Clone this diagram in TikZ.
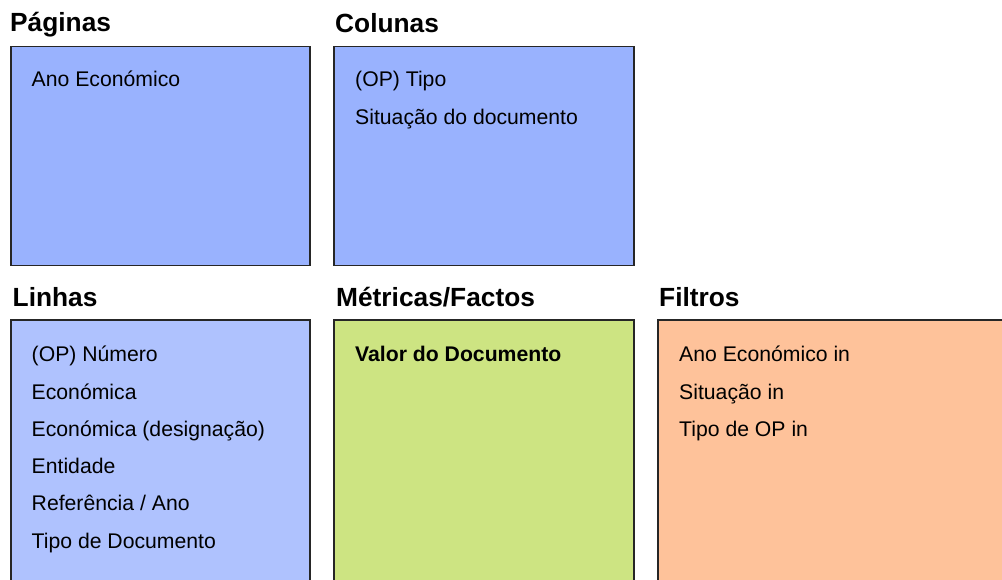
\documentclass[tikz,border=0pt]{standalone}
\usepackage{fontspec}
\setmainfont{Liberation Sans}
\definecolor{pagfill}{HTML}{99B2FE}
\definecolor{linfill}{HTML}{AFC2FE}
\definecolor{metfill}{HTML}{CDE482}
\definecolor{filfill}{HTML}{FEC29A}
\begin{document}
\begin{tikzpicture}[x=1pt,y=-1pt,
  box/.style={draw=black!85, line width=1.3pt, anchor=north west, inner sep=0pt, outer sep=0pt},
  title/.style={anchor=base west, inner sep=0pt, font=\fontsize{26.3}{31}\selectfont\bfseries},
  item/.style={anchor=base west, inner sep=0pt, font=\fontsize{21.2}{25}\selectfont}]
\clip (0,0) rectangle (1002,580);
% titles
\node[title] (tpag) at (10,32) {Páginas};
\node[title] (tcol) at (335,33) {Colunas};
\node[title] (tlin) at (12.5,306.5) {Linhas};
\node[title] (tmet) at (336,306.5) {Métricas/Factos};
\node[title] (tfil) at (659,306.5) {Filtros};
% boxes
\node[box, fill=pagfill, minimum width=299pt, minimum height=219pt] (bpag) at (11,46.5) {};
\node[box, fill=pagfill, minimum width=300pt, minimum height=219pt] (bcol) at (334,46.5) {};
\node[box, fill=linfill, minimum width=299pt, minimum height=290pt] (blin) at (11,320) {};
\node[box, fill=metfill, minimum width=300pt, minimum height=290pt] (bmet) at (334,320) {};
\node[box, fill=filfill, minimum width=380pt, minimum height=290pt] (bfil) at (658,320) {};
% items
\node[item] (p1) at (31.5,87) {Ano Económico};
\node[item] (c1) at (355,87) {(OP) Tipo};
\node[item] (c2) at (355,124.3) {Situação do documento};
\node[item] (l1) at (31.5,361.7) {(OP) Número};
\node[item] (l2) at (31.5,399) {Económica};
\node[item] (l3) at (31.5,436.3) {Económica (designação)};
\node[item] (l4) at (31.5,473.6) {Entidade};
\node[item] (l5) at (31.5,510.9) {Referência / Ano};
\node[item] (l6) at (31.5,548.2) {Tipo de Documento};
\node[item, font=\fontsize{21.2}{25}\selectfont\bfseries] (m1) at (355,361.7) {Valor do Documento};
\node[item] (f1) at (679,361.7) {Ano Económico in};
\node[item] (f2) at (679,399) {Situação in};
\node[item] (f3) at (679,436.3) {Tipo de OP in};
\end{tikzpicture}
\end{document}
